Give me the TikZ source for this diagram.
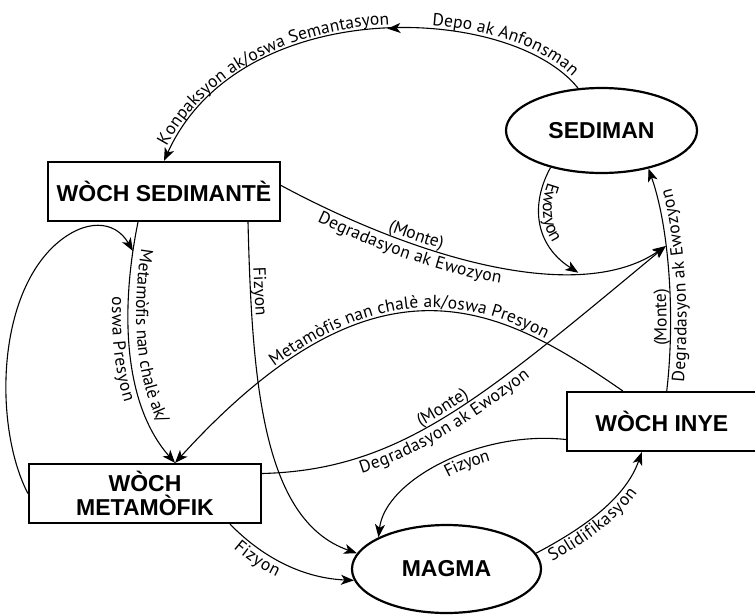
\documentclass[tikz,border=0pt]{standalone}
\usepackage{fontspec}
\setmainfont{Liberation Sans}
\newfontfamily\lblfamily{PT Sans}
\usetikzlibrary{arrows.meta,shapes.geometric,decorations.text,decorations.markings}
\newcommand{\lblfont}{\lblfamily\fontsize{17.5}{20}\selectfont}
\newcommand{\rockfont}{\bfseries\fontsize{23}{24}\selectfont}

\begin{document}
\begin{tikzpicture}[
    x=1pt, y=-1pt,
    rock/.style={rectangle, draw, line width=2.2pt, minimum width=232pt, minimum height=59pt, inner sep=0pt, align=center, font=\rockfont},
    pool/.style={ellipse, draw, line width=2.2pt, inner sep=0pt, font=\rockfont},
    arrow/.style={-{Stealth[length=13pt,width=10pt,inset=3.5pt]}, line width=1.1pt},
    midarrow/.style={postaction={decorate, decoration={markings, mark=at position #1 with {\arrow{Stealth[length=13pt,width=10pt,inset=3.5pt]}}}}},
    along/.style n args={3}{decorate, decoration={text along path, text={|\lblfont|#1}, text align={left indent=#2}, raise=#3}},
    alongright/.style n args={3}{decorate, decoration={text along path, text={|\lblfont|#1}, text align={right, right indent=#2}, raise=#3}}
]
    \path[use as bounding box, fill=white] (0,0) rectangle (755,614);

    % Rocks and pools
    \node[pool, minimum width=191pt, minimum height=85pt] (sediman) at (601.5,130.5) {SEDIMAN};
    \node[pool, minimum width=189pt, minimum height=88pt] (magma) at (446.5,569) {MAGMA};
    \node[rock] (sedimante) at (164,191.5) {WÒCH SEDIMANTÈ};
    \node[rock] (metamofik) at (145,493.5) {WÒCH\\METAMÒFIK};
    \node[rock, minimum width=189.5pt] (inye) at (661.75,421.5) {WÒCH INYE};

    % Igneous rock up to sediment (hub is where weathering joins)
    \draw[arrow, postaction={along={(Monte)}{45pt}{4pt}}, postaction={along={Degradasyon ak Ewozyon}{10pt}{-16pt}}]
        ([xshift=5pt]inye.north) .. controls (675,320) and (670,230) .. (sediman.-39) coordinate[pos=0.63] (hub);

    % Sediment back to sedimentary rock
    \draw[arrow, midarrow=0.43] (sediman.119) .. controls (510,3) and (240,-7) .. (sedimante.north);
    \path[along={Konpaksyon ak/oswa Semantasyon}{14pt}{4pt}] (sedimante.north) .. controls (240,-7) and (510,3) .. (sediman.119);
    \path[alongright={Depo ak Anfonsman}{12pt}{4pt}] (sedimante.north) .. controls (240,-7) and (510,3) .. (sediman.119);

    % Sedimentary rock
    \draw[arrow, postaction={along={Metamòfis nan chalè ak/}{26pt}{8pt}}, postaction={along={oswa Presyon}{76pt}{-16pt}}]
        ([xshift=-26pt]sedimante.south) .. controls (122,300) and (120,400) .. ([xshift=30pt]metamofik.north) coordinate[pos=0.12] (loopend);
    \draw[arrow, postaction={along={Fizyon}{46pt}{4pt}}]
        ([xshift=84pt]sedimante.south) .. controls (252,380) and (262,520) .. (magma.170);
    \draw[arrow, postaction={along={(Monte)}{116pt}{4pt}}, postaction={along={Degradasyon ak Ewozyon}{48pt}{-16pt}}]
        ([yshift=6pt]sedimante.east) .. controls (420,260) and (580,305) .. (hub) coordinate[pos=0.72] (erode);
    \draw[arrow, postaction={along={Ewozyon}{15pt}{4pt}}] (sediman.216) .. controls (530,205) and (535,245) .. (erode);

    % Metamorphic rock
    \draw[arrow, postaction={along={(Monte)}{168pt}{4pt}}, postaction={along={Degradasyon ak Ewozyon}{96pt}{-16pt}}]
        ([yshift=20pt]metamofik.east) .. controls (400,470) and (480,400) .. (hub);
    \draw[arrow, postaction={along={Fizyon}{18pt}{-15pt}}]
        ([xshift=85pt]metamofik.south) .. controls (260,555) and (300,578) .. (magma.187);
    \draw[arrow] (metamofik.west) .. controls (-5,430) and (-5,300) .. (55,245) .. controls (85,218) and (115,220) .. (loopend);

    % Igneous rock
    \draw[arrow] ([xshift=-39pt]inye.north) .. controls (500,306) and (378,240) .. ([xshift=30pt]metamofik.north);
    \path[along={Metamòfis nan chalè ak/oswa Presyon}{138pt}{4pt}] ([xshift=30pt]metamofik.north) .. controls (378,240) and (500,306) .. ([xshift=-39pt]inye.north);
    \draw[arrow] ([yshift=-18pt]inye.west) .. controls (480,430) and (385,480) .. (magma.155);
    \path[along={Fizyon}{100pt}{-15pt}] (magma.155) .. controls (385,480) and (480,430) .. ([yshift=-18pt]inye.west);

    % Magma
    \draw[arrow, postaction={along={Solidifikasyon}{10pt}{-15pt}}]
        (magma.10) .. controls (580,530) and (625,500) .. ([xshift=-20pt]inye.south);
\end{tikzpicture}
\end{document}
